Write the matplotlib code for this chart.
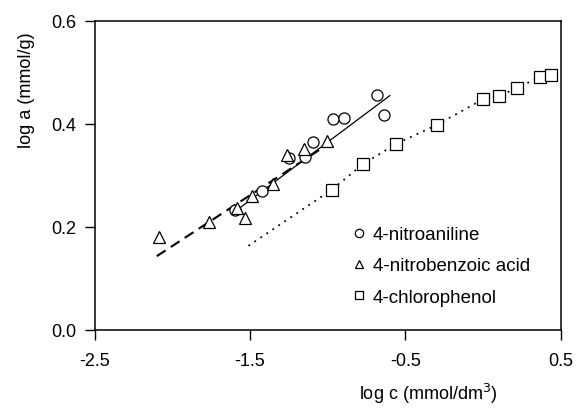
import matplotlib
matplotlib.use("Agg")
import matplotlib.pyplot as plt
import numpy as np

plt.rcParams['font.family'] = ['Liberation Sans', 'DejaVu Sans']

# log c (mmol/dm3) and log a (mmol/g)
na_x = [-1.597, -1.420, -1.249, -1.146, -1.096, -0.964, -0.898, -0.684, -0.637]
na_y = [0.232, 0.270, 0.334, 0.335, 0.365, 0.409, 0.411, 0.457, 0.418]

nba_x = [-2.084, -1.764, -1.584, -1.530, -1.487, -1.355, -1.260, -1.154, -1.006]
nba_y = [0.181, 0.209, 0.237, 0.217, 0.259, 0.284, 0.339, 0.351, 0.366]

cp_x = [-0.974, -0.772, -0.560, -0.298, 0.000, 0.105, 0.217, 0.367, 0.436]
cp_y = [0.272, 0.322, 0.361, 0.398, 0.448, 0.454, 0.470, 0.491, 0.496]

# fitted lines
na_fit_x = [-1.60, -0.60]
na_fit_y = [0.229, 0.455]
nba_fit_x = [-2.10, -1.00]
nba_fit_y = [0.143, 0.360]
cp_fit_x = [-1.51, -0.974, -0.772, -0.560, -0.298, 0.000, 0.105, 0.217, 0.367, 0.436, 0.50]
cp_fit_y = [0.163, 0.272, 0.322, 0.361, 0.398, 0.448, 0.454, 0.470, 0.491, 0.496, 0.502]

labels = ['4-nitroaniline', '4-nitrobenzoic acid', '4-chlorophenol']

fig = plt.figure(figsize=(5.77, 4.10), dpi=100)
ax = fig.add_axes([94.7/577, 1 - 330.7/410, 466/577, 308.7/410])

ax.plot(na_fit_x, na_fit_y, color='black', lw=0.9, zorder=1)
ax.plot(nba_fit_x, nba_fit_y, color='black', lw=1.5, dashes=(5, 3), zorder=1)
ax.plot(cp_fit_x, cp_fit_y, color='black', lw=1.3, dashes=(1, 3), zorder=1)

mk = dict(ls='none', mfc='white', mec='black', mew=0.9, ms=8, zorder=3)
ax.plot(na_x, na_y, marker='o', label=labels[0], **mk)
ax.plot(nba_x, nba_y, marker='^', label=labels[1], **mk)
ax.plot(cp_x, cp_y, marker='s', label=labels[2], **mk)

ax.set_xlim(-2.5, 0.5)
ax.set_ylim(0.0, 0.6)
ax.set_xticks([-2.5, -1.5, -0.5, 0.5])
ax.set_yticks([0.0, 0.2, 0.4, 0.6])
ax.set_xticklabels(['-2.5', '-1.5', '-0.5', '0.5'])
ax.set_yticklabels(['0.0', '0.2', '0.4', '0.6'])
ax.tick_params(direction='out', length=7, width=1, labelsize=13, top=False, right=False)
ax.tick_params(axis='x', pad=9)
ax.tick_params(axis='y', pad=6)
for s in ax.spines.values():
    s.set_linewidth(1.1)

ax.set_ylabel('log a (mmol/g)', fontsize=13, loc='top')
ax.yaxis.set_label_coords(-0.128, 0.968)
ax.set_xlabel('log c (mmol/dm$^3$)', fontsize=13)
ax.xaxis.set_label_coords(0.715, -0.165)

ax.legend(loc='upper left', bbox_to_anchor=(0.54, 0.36), frameon=False, fontsize=13.5,
          handlelength=0.6, handletextpad=0.4, labelspacing=0.75, markerscale=0.75,
          borderaxespad=0)

fig.savefig('out.png', dpi=100)
